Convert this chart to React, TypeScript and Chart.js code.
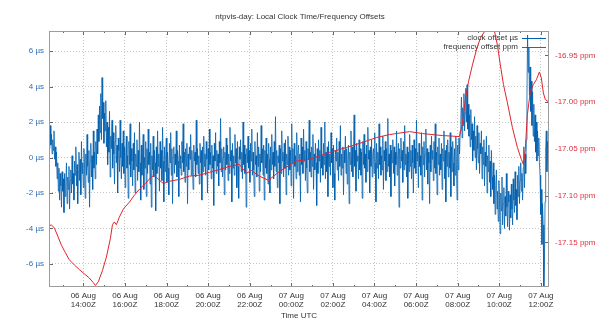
import React, { useEffect, useRef } from 'react';
import { Chart, registerables } from 'chart.js';

Chart.register(...registerables);

const FONT = '"Liberation Sans", Arial, sans-serif';

const CHART_TITLE = 'ntpvis-day: Local Clock Time/Frequency Offsets';
const X_TITLE = 'Time UTC';
const CLOCK_LABEL = 'clock offset µs';
const FREQ_LABEL = 'frequency offset ppm';

// x axis: hours counted from 06 Aug 00:00Z
const X_MIN = 12.35;
const X_MAX = 36.39;
const xTickHours = [14, 16, 18, 20, 22, 24, 26, 28, 30, 32, 34, 36];
const xTickLabels = [
  ['06 Aug', '14:00Z'], ['06 Aug', '16:00Z'], ['06 Aug', '18:00Z'], ['06 Aug', '20:00Z'],
  ['06 Aug', '22:00Z'], ['07 Aug', '00:00Z'], ['07 Aug', '02:00Z'], ['07 Aug', '04:00Z'],
  ['07 Aug', '06:00Z'], ['07 Aug', '08:00Z'], ['07 Aug', '10:00Z'], ['07 Aug', '12:00Z'],
];
const xMinorHours = [13, 15, 17, 19, 21, 23, 25, 27, 29, 31, 33, 35];

const CLOCK_MIN = -7.296;
const CLOCK_MAX = 7.127;
const clockTicks = [-6, -4, -2, 0, 2, 4, 6];

const FREQ_MIN = -17.1976;
const FREQ_MAX = -16.9238;
const freqTicks = [-17.15, -17.1, -17.05, -17.0, -16.95];

// clock offset samples (µs), one every clockStepHours starting at clockStartHour
const clockStartHour = 12.35;
const clockStepHours = 0.03;
const clockOffsets = [
  1.2, 0.5, 1.8, 0.7, 1.3, 0.2, 1.0, 0.4, 1.5, -0.1, 0.6, -0.5, 0.3, -1.2, -0.3, -1.9, -0.6, -2.4, -0.9, -1.6,
  -2.8, -0.8, -1.9, -1.2, -3.1, -0.9, -2.2, -1.4, -0.3, -2.6, -1.1, -1.8, -0.5, -2.9, -1.3, -0.7, -2.0, 0.1, -1.5, -0.9,
  -2.4, -0.2, -1.0, 0.6, -1.6, -0.4, -2.6, -0.8, 0.3, -1.3, -0.1, -2.1, 0.9, -0.9, -0.3, -1.7, 0.5, -0.6, -2.3, 0.2,
  -1.0, 1.3, -0.5, -1.4, 0.4, -2.8, -0.2, 0.8, -1.1, 0.1, -1.8, 1.5, -0.6, 0.3, -1.2, 0.9, -0.4, 1.6, 0.2, 2.4,
  0.9, 2.9, 1.4, 3.6, 1.0, 4.5, 2.2, 3.1, 0.8, 2.5, 1.5, 3.2, 0.6, 2.0, -0.4, 1.7, 0.3, 2.6, -1.1, 1.2,
  0.5, 2.1, -0.6, 1.4, 0.2, -1.5, 0.9, 1.8, -0.3, 0.7, -2.0, 1.1, 0.4, -0.8, 2.1, 0.0, -1.2, 0.8, -0.5, 1.5,
  -0.9, 0.6, -1.7, 0.3, 1.2, -0.6, 0.1, -2.3, 0.9, -0.4, 1.9, -1.1, 0.5, -0.2, -1.6, 0.8, -0.7, 1.4, -2.0, 0.2,
  -0.5, 1.0, -1.3, 0.4, -0.8, 2.0, -0.3, -2.4, 0.7, -1.0, 0.2, 1.3, -1.8, 0.0, -0.6, 0.9, -2.2, 0.5, -0.9, 1.6,
  -0.4, 0.3, -1.5, 0.8, -2.8, 0.1, -0.7, 1.2, -1.1, 0.4, -0.3, -3.0, 0.6, -0.9, 1.5, -0.5, 0.2, -1.9, 0.9, -0.6,
  0.4, -1.3, 1.7, -0.2, -2.5, 0.6, -0.8, 0.1, 1.1, -1.4, 0.3, -0.6, -2.1, 0.8, -0.3, 1.4, -1.0, 0.5, -2.6, 0.0,
  0.6, -0.9, 0.2, -0.4, 1.5, -1.1, 0.4, -0.2, -2.2, 0.7, -0.6, 0.1, -1.0, 0.9, -0.3, 1.9, -0.8, 0.3, -1.4, 0.5,
  -0.5, 0.8, -2.6, 0.2, -0.7, 0.6, -0.1, 1.3, -1.0, 0.4, -0.6, -1.8, 0.7, -0.2, 0.3, -1.1, 2.1, -0.4, 0.5, -0.9,
  0.1, -1.5, 0.8, -0.3, 0.4, -2.4, 0.6, -0.8, 1.2, -0.5, 0.2, -1.0, 0.9, -0.1, -2.0, 0.5, -0.7, 1.6, -0.4, 0.3,
  -1.2, 0.7, -0.6, 0.1, -2.7, 0.8, -0.2, 1.4, -0.9, 0.4, -0.5, 0.2, -1.6, 0.9, -0.3, 2.2, -0.8, 0.5, -1.1, 0.0,
  0.6, -2.1, 0.3, -0.7, 1.1, -0.4, 0.7, -1.3, 0.2, -0.9, 1.7, -0.2, 0.4, -2.5, 0.8, -0.6, 0.1, -1.0, 1.3, -0.3,
  0.5, -1.7, 0.9, -0.5, -2.3, 0.6, -0.1, 1.0, -0.8, 0.3, -1.2, 2.0, -0.4, 0.7, -0.9, 0.2, -2.8, 0.5, -0.3, 1.2,
  -0.6, 0.4, -1.4, 0.8, -0.2, 1.6, -1.0, 0.3, -0.7, -2.2, 0.9, -0.4, 0.1, -1.1, 1.4, -0.5, 0.6, -1.9, 0.2, -0.8,
  1.8, -0.3, 0.5, -1.0, 0.7, -2.4, 0.4, -0.6, 1.1, -0.9, 0.2, -1.5, 0.8, -0.1, -2.0, 0.6, -0.7, 1.3, -0.4, 0.3,
  -1.2, 0.9, -0.5, 2.3, -0.8, 0.4, -1.7, 0.1, -0.3, 0.7, -2.6, 0.5, -0.9, 1.5, -0.2, 0.3, -1.1, 0.8, -0.6, 1.0,
  -2.1, 0.2, -0.4, 1.2, -1.0, 0.6, -0.7, 0.4, -1.6, 1.9, -0.3, 0.5, -2.3, 0.8, -0.5, 0.1, -1.2, 1.4, -0.8, 0.3,
  0.7, -1.0, 0.2, -2.5, 1.1, -0.4, 0.6, -0.9, 1.6, -0.2, 0.4, -1.3, 0.9, -0.6, -2.0, 0.5, -0.1, 2.1, -0.8, 0.3,
  -1.1, 0.6, -0.5, 1.3, -1.8, 0.2, -0.7, 0.8, -0.3, -2.7, 0.5, -0.9, 1.0, -0.2, 0.4, -1.4, 1.7, -0.6, 0.1, -1.0,
  0.8, -0.4, 2.0, -1.2, 0.3, -0.8, 0.6, -2.2, 0.9, -0.5, 0.2, -1.0, 1.4, -0.3, 0.5, -1.7, 0.7, -0.9, -2.4, 0.4,
  -0.2, 1.1, -0.7, 0.3, -1.3, 0.9, -0.5, 1.8, -1.0, 0.2, -0.6, 0.6, -2.1, 0.4, -0.3, 1.2, -0.9, 0.5, -1.5, 0.0,
  0.7, -2.6, 0.3, -0.4, 1.5, -0.8, 0.6, -1.1, 0.2, 2.4, -0.5, 0.4, -1.9, 0.8, -0.2, 0.1, -1.2, 1.0, -0.7, 0.5,
  -1.0, 0.3, -2.3, 0.9, -0.4, 1.3, -0.6, 0.2, -1.4, 0.7, -0.8, 1.7, -0.1, 0.4, -2.0, 0.6, -0.5, 1.0, -1.1, 0.2,
  0.5, -0.9, 1.4, -0.3, -2.5, 0.8, -0.6, 0.3, -1.2, 1.9, -0.4, 0.6, -1.0, 0.1, -0.7, 1.2, -1.8, 0.4, -0.2, 0.9,
  -1.3, 0.5, -0.8, 2.2, -0.5, 0.2, -1.1, 0.7, -2.2, 0.4, -0.3, 1.0, -0.9, 0.6, -1.6, 0.3, -0.4, 1.5, -1.0, 0.1,
  0.8, -2.8, 0.5, -0.6, 1.1, -0.2, 0.4, -1.4, 0.9, -0.7, 1.8, -0.4, 0.2, -1.1, 0.6, -2.3, 0.3, -0.8, 1.3, -0.5,
  0.4, -1.2, 0.7, -0.3, -2.0, 1.0, -0.6, 0.5, -0.9, 2.1, -0.2, 0.3, -1.7, 0.8, -0.5, 0.1, -1.0, 1.4, -2.4, 0.6,
  -0.4, 0.9, -1.1, 0.2, 1.6, -0.7, 0.5, -1.5, 0.3, -0.3, -2.6, 0.7, -0.8, 1.2, -0.1, 0.4, -1.3, 0.9, -0.6, 1.9,
  -0.9, 0.3, -2.1, 0.6, -0.4, 1.1, -1.0, 0.2, -0.7, 0.8, -1.8, 0.5, -0.2, 1.5, -1.2, 0.4, -2.5, 0.7, -0.5, 1.0,
  -1.1, 0.3, -0.6, 1.4, -2.2, 0.6, -0.8, 0.9, -0.3, -1.6, 0.5, -1.0, 1.2, -0.4, -2.4, 0.7, -0.7, 1.1, 0.2, 1.5,
  2.2, 3.4, 1.1, 2.8, 1.8, 3.6, 1.5, 2.5, 3.9, 2.0, 4.1, 1.6, 3.0, 1.2, 2.4, 0.6, 2.7, 1.0, 1.9, -0.2,
  1.5, 0.4, 2.3, 0.0, 1.2, -0.7, 1.8, 0.5, -0.3, 1.4, -0.9, 0.8, 0.2, 1.5, -1.2, 0.6, -0.4, 1.0, -1.6, 0.3,
  -0.5, 1.2, -2.0, 0.1, -0.8, 0.7, -1.4, -0.2, -2.2, 0.4, -1.1, -1.8, -0.3, -2.6, -1.0, -3.2, -1.6, -0.7, -2.9, -1.9,
  -3.6, -1.3, -2.4, -4.3, -2.0, -3.0, -1.1, -3.8, -2.6, -1.7, -4.0, -2.2, -3.3, -0.9, -2.8, -3.9, -1.9, -2.5, -4.1, -2.1,
  -3.4, -1.5, -2.9, -3.8, -1.2, -2.4, -3.1, -0.8, -2.7, -1.8, -3.5, -1.0, -2.2, -0.5, -2.6, -1.3, -0.3, -1.9, -0.9, -2.4,
  -0.6, 0.6, -1.7, 0.2, -0.9, 1.0, 3.4, 6.9, 4.8, 6.2, 3.5, 5.1, 2.6, 4.3, 1.8, 3.7, 1.2, 3.0, 0.9, 2.4,
  0.3, 2.0, -0.2, 1.5, 0.1, 1.1, -0.3, -1.0, -3.2, -1.8, -4.9, -2.6, -3.8, -7.5, -6.0, -2.5, 0.4, 1.5, -0.8, 0.9,
  -0.3,
];

// frequency offset (ppm) at the given hours
const freqHours = [
  12.32, 12.46, 12.61, 12.75, 12.95, 13.14, 13.33, 13.57, 13.81, 14.05,
  14.29, 14.48, 14.58, 14.72, 14.92, 15.11, 15.3, 15.4, 15.49, 15.59,
  15.73, 15.93, 16.21, 16.45, 16.7, 16.98, 17.27, 17.42, 17.61, 17.85,
  18.14, 18.62, 19.1, 19.58, 20.06, 20.54, 21.02, 21.5, 21.84, 22.08,
  22.46, 22.9, 23.43, 24.24, 24.87, 25.83, 26.65, 27.42, 28.09, 28.71,
  29.68, 30.3, 31.26, 32.08, 32.22, 32.37, 32.52, 32.71, 32.9, 33.09,
  33.33, 33.52, 33.76, 33.91, 34.05, 34.2, 34.39, 34.63, 34.87, 35.06,
  35.16, 35.25, 35.35, 35.49, 35.64, 35.78, 35.93, 36.02, 36.12, 36.21,
  36.36,
];
const freqPpm = [
  -17.1335, -17.131, -17.1346, -17.142, -17.153, -17.161, -17.1686, -17.174, -17.179, -17.1835,
  -17.188, -17.193, -17.196, -17.192, -17.18, -17.1655, -17.146, -17.131, -17.128, -17.131,
  -17.123, -17.114, -17.107, -17.0995, -17.093, -17.087, -17.08, -17.078, -17.0825, -17.087,
  -17.0845, -17.0825, -17.079, -17.078, -17.075, -17.072, -17.0686, -17.0665, -17.076, -17.073,
  -17.079, -17.0835, -17.074, -17.063, -17.061, -17.0537, -17.0484, -17.043, -17.0378, -17.0346,
  -17.0314, -17.0335, -17.0356, -17.0367, -17.024, -16.997, -16.978, -16.96, -16.944, -16.9314,
  -16.923, -16.92, -16.923, -16.939, -16.96, -16.981, -17.0005, -17.027, -17.0484, -17.061,
  -17.0665, -17.0505, -17.0133, -16.989, -16.981, -16.976, -16.9676, -16.974, -16.99, -16.997,
  -16.9995,
];

const CLOCK_COLOR = '#0060ad';
const FREQ_COLOR = '#e0242c';
const TEXT_COLOR = '#333333';
const GRID_COLOR = '#c4c4c4';
const FRAME_COLOR = '#9c9c9c';
const TICK_COLOR = '#666666';

const keyPlugin = {
  id: 'gpKey',
  beforeDatasetsDraw(chart: any) {
    const { ctx, chartArea: a } = chart;
    ctx.save();
    ctx.font = `8px ${FONT}`;
    ctx.textAlign = 'right';
    ctx.textBaseline = 'middle';
    chart.data.datasets.forEach((ds: any, i: number) => {
      const y = a.top + 7 + i * 9;
      const xr = a.right - 31;
      ctx.fillStyle = TEXT_COLOR;
      ctx.fillText(ds.label, xr, y);
      ctx.strokeStyle = ds.borderColor;
      ctx.lineWidth = 1;
      ctx.beginPath();
      ctx.moveTo(xr + 4, Math.round(y) + 0.5);
      ctx.lineTo(xr + 28, Math.round(y) + 0.5);
      ctx.stroke();
    });
    ctx.restore();
  },
};

const framePlugin = {
  id: 'gpFrame',
  afterDatasetsDraw(chart: any) {
    const { ctx, chartArea: a, scales } = chart;
    ctx.save();
    ctx.lineWidth = 1;
    ctx.strokeStyle = TICK_COLOR;
    const seg = (x1: number, y1: number, x2: number, y2: number) => {
      ctx.beginPath();
      ctx.moveTo(x1, y1);
      ctx.lineTo(x2, y2);
      ctx.stroke();
    };
    const xs = scales.x;
    xTickHours.forEach((h) => {
      const px = Math.round(xs.getPixelForValue(h)) + 0.5;
      seg(px, a.bottom, px, a.bottom - 4);
      seg(px, a.top, px, a.top + 4);
    });
    xMinorHours.forEach((h) => {
      const px = Math.round(xs.getPixelForValue(h)) + 0.5;
      seg(px, a.bottom, px, a.bottom - 2);
      seg(px, a.top, px, a.top + 2);
    });
    clockTicks.forEach((v) => {
      const py = Math.round(scales.y.getPixelForValue(v)) + 0.5;
      seg(a.left, py, a.left + 4, py);
    });
    freqTicks.forEach((v) => {
      const py = Math.round(scales.y1.getPixelForValue(v)) + 0.5;
      seg(a.right, py, a.right - 4, py);
    });
    ctx.strokeStyle = FRAME_COLOR;
    ctx.strokeRect(Math.round(a.left) + 0.5, Math.round(a.top) + 0.5, Math.round(a.width) - 1, Math.round(a.height) - 1);
    ctx.restore();
  },
};

export default function App() {
  const ref = useRef<HTMLCanvasElement>(null);

  useEffect(() => {
    const clockData = clockOffsets.map((v, i) => ({ x: clockStartHour + i * clockStepHours, y: v }));
    const freqData = freqHours.map((h, i) => ({ x: h, y: freqPpm[i] }));
    const tickFont = { family: FONT, size: 8, lineHeight: 1.15 };

    const chart = new Chart(ref.current as HTMLCanvasElement, {
      type: 'line',
      data: {
        datasets: [
          {
            label: CLOCK_LABEL,
            data: clockData,
            yAxisID: 'y',
            borderColor: CLOCK_COLOR,
            backgroundColor: CLOCK_COLOR,
            borderWidth: 0.8,
            pointRadius: 0,
            tension: 0,
            order: 1,
          },
          {
            label: FREQ_LABEL,
            data: freqData,
            yAxisID: 'y1',
            borderColor: FREQ_COLOR,
            backgroundColor: FREQ_COLOR,
            borderWidth: 1,
            pointRadius: 0,
            tension: 0,
            order: 0,
          },
        ],
      },
      options: {
        responsive: false,
        animation: false,
        devicePixelRatio: 1,
        layout: { padding: 0 },
        plugins: {
          legend: { display: false },
          tooltip: { enabled: false },
          title: {
            display: true,
            text: CHART_TITLE,
            color: TEXT_COLOR,
            font: { family: FONT, size: 8, weight: 'normal', lineHeight: 1.2 },
            padding: { top: 12, bottom: 9.4 },
          },
        },
        scales: {
          x: {
            type: 'linear',
            position: 'bottom',
            min: X_MIN,
            max: X_MAX,
            afterBuildTicks: (s: any) => {
              s.ticks = xTickHours.map((v) => ({ value: v }));
            },
            afterFit: (s: any) => {
              s.height = 41;
            },
            ticks: {
              autoSkip: false,
              maxRotation: 0,
              padding: 4,
              color: TEXT_COLOR,
              font: tickFont,
              callback: (v: any) => {
                const idx = xTickHours.indexOf(Number(v));
                return idx >= 0 ? xTickLabels[idx] : '';
              },
            },
            grid: { color: GRID_COLOR, lineWidth: 1, drawTicks: false },
            border: { display: false, dash: [1, 2] },
            title: {
              display: true,
              text: X_TITLE,
              color: TEXT_COLOR,
              font: { family: FONT, size: 8, lineHeight: 1.2 },
              padding: { top: 0, bottom: 7 },
            },
          },
          y: {
            type: 'linear',
            position: 'left',
            min: CLOCK_MIN,
            max: CLOCK_MAX,
            afterBuildTicks: (s: any) => {
              s.ticks = clockTicks.map((v) => ({ value: v }));
            },
            afterFit: (s: any) => {
              s.width = 49;
            },
            ticks: {
              padding: 5,
              color: '#2b6db4',
              font: tickFont,
              callback: (v: any) => `${v} µs`,
            },
            grid: { color: GRID_COLOR, lineWidth: 1, drawTicks: false },
            border: { display: false, dash: [1, 2] },
          },
          y1: {
            type: 'linear',
            position: 'right',
            min: FREQ_MIN,
            max: FREQ_MAX,
            afterBuildTicks: (s: any) => {
              s.ticks = freqTicks.map((v) => ({ value: v }));
            },
            afterFit: (s: any) => {
              s.width = 51;
            },
            ticks: {
              padding: 6,
              color: '#dd3040',
              font: tickFont,
              callback: (v: any) => `${Number(v).toFixed(2)} ppm`,
            },
            grid: { display: false, drawTicks: false },
            border: { display: false },
          },
        },
      },
      plugins: [keyPlugin, framePlugin],
    } as any);

    return () => chart.destroy();
  }, []);

  return (
    <div style={{ position: 'fixed', left: 0, top: 0, width: 600, height: 328, background: '#ffffff' }}>
      <canvas ref={ref} width={600} height={328} style={{ display: 'block', width: 600, height: 328 }} />
    </div>
  );
}
